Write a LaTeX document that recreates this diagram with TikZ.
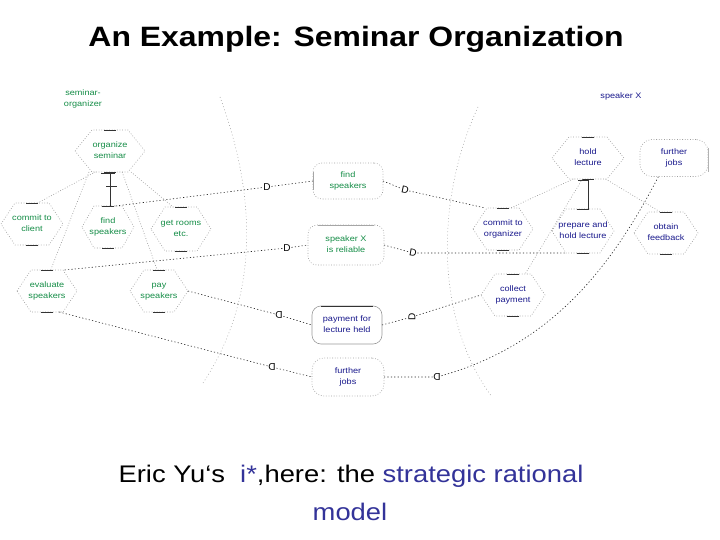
\documentclass[tikz,border=0pt]{standalone}
\usepackage{fontspec}
\setmainfont{Liberation Sans}
\usepackage{graphicx}
\usetikzlibrary{calc}
\definecolor{orggreen}{RGB}{20,140,70}
\definecolor{spkblue}{RGB}{25,25,140}
\definecolor{capblue}{RGB}{51,51,153}
\newcommand{\wideX}[1]{\scalebox{1.14}[1]{#1}}
\newcommand{\mylbl}[1]{\wideX{\begin{tabular}{@{}c@{}}#1\end{tabular}}}
\newcommand{\hexfr}[2][14]{%
  \draw[hexside] (#2.west) -- ($(#2.north west)+(#1,0)$) -- ($(#2.north east)+(-#1,0)$) -- (#2.east) -- ($(#2.south east)+(-#1,0)$) -- ($(#2.south west)+(#1,0)$) -- cycle;
  \draw[hexcap] ($(#2.north)+(-6,0)$) -- ($(#2.north)+(6,0)$);
  \draw[hexcap] ($(#2.south)+(-6,0)$) -- ($(#2.south)+(6,0)$);}
\begin{document}
\begin{tikzpicture}[x=1pt,y=-1pt,
  hexnode/.style={draw=none,inner sep=0pt,outer sep=0pt,font=\fontsize{8}{10.5}\selectfont},
  hexside/.style={draw=gray!75,dash pattern=on 0.8pt off 1.8pt,line width=0.6pt},
  hexcap/.style={draw=black!80,line width=0.7pt},
  dep/.style={draw=black!85,dash pattern=on 1.2pt off 2.2pt,line width=0.6pt},
  decomp/.style={draw=gray!80,dash pattern=on 0.8pt off 1.8pt,line width=0.6pt},
  bound/.style={draw=gray!70,dash pattern=on 0.8pt off 2.5pt,line width=0.6pt},
  dsym/.style={font=\fontsize{10}{10}\selectfont,inner sep=0.6pt,text=black},
  goalbox/.style={draw=gray!75,dash pattern=on 0.8pt off 1.8pt,line width=0.6pt,rounded corners=9pt,inner sep=0pt,outer sep=0pt,font=\fontsize{8}{10.5}\selectfont},
  actlbl/.style={inner sep=0pt,font=\fontsize{8}{10.5}\selectfont}]
\useasboundingbox (0,0) rectangle (720,540);

% title and caption
\node[anchor=base,font=\fontsize{28}{34}\selectfont\bfseries] (title) at (356,47) {\wideX{An Example: Seminar Organization}};
\node[anchor=base,font=\fontsize{24}{30}\selectfont] (cap1) at (351,482) {\wideX{Eric Yu‘s\ \ \textcolor{capblue}{i*},here: the \textcolor{capblue}{strategic rational}}};
\node[anchor=base,font=\fontsize{24}{30}\selectfont,text=capblue] (cap2) at (350,520) {\wideX{model}};

% actor labels
\node[actlbl,text=orggreen] (orglbl) at (83,99) {\mylbl{seminar-\\organizer}};
\node[actlbl,text=spkblue] (spklbl) at (621,96) {\wideX{speaker X}};

% actor boundaries
\draw[bound] (220,97) .. controls (258,200) and (258,300) .. (203,383);
\draw[bound] (478,107) .. controls (435,200) and (435,320) .. (492,397);

% organizer tasks
\node[hexnode,text=orggreen,minimum width=70pt,minimum height=42pt] (os) at (110,151) {\mylbl{organize\\seminar}};
\node[hexnode,text=orggreen,minimum width=52pt,minimum height=42pt] (fs) at (108,227) {\mylbl{find\\speakers}};
\node[hexnode,text=orggreen,minimum width=62pt,minimum height=42pt] (cc) at (32,224) {\mylbl{commit to\\client}};
\node[hexnode,text=orggreen,minimum width=60pt,minimum height=44pt] (gr) at (181,229) {\mylbl{get rooms\\etc.}};
\node[hexnode,text=orggreen,minimum width=60pt,minimum height=42pt] (ev) at (47,291) {\mylbl{evaluate\\speakers}};
\node[hexnode,text=orggreen,minimum width=58pt,minimum height=42pt] (ps) at (159,291) {\mylbl{pay\\speakers}};
\hexfr[17]{os}
\hexfr[12]{fs}
\hexfr{cc}
\hexfr{gr}
\hexfr{ev}
\hexfr{ps}

% speaker tasks
\node[hexnode,text=spkblue,minimum width=72pt,minimum height=42pt] (hl) at (588,158) {\mylbl{hold\\lecture}};
\node[hexnode,text=spkblue,minimum width=60pt,minimum height=42pt] (co) at (503,229) {\mylbl{commit to\\organizer}};
\node[hexnode,text=spkblue,minimum width=62pt,minimum height=44pt] (ph) at (583,231) {\mylbl{prepare and\\hold lecture}};
\node[hexnode,text=spkblue,minimum width=64pt,minimum height=42pt] (ofb) at (666,233) {\mylbl{obtain\\feedback}};
\node[hexnode,text=spkblue,minimum width=64pt,minimum height=42pt] (cp) at (513,295) {\mylbl{collect\\payment}};
\hexfr[17]{hl}
\hexfr{co}
\hexfr{ph}
\hexfr{ofb}
\hexfr{cp}
\node[goalbox,text=spkblue,minimum width=68pt,minimum height=37pt,rounded corners=12pt] (fj2) at (674,158) {\mylbl{further\\jobs}};
\draw[hexcap,draw=gray!60] ($(fj2.north east)+(0,9)$) -- ($(fj2.south east)+(0,-4)$);

% dependums
\node[goalbox,text=orggreen,minimum width=70pt,minimum height=36pt] (fsd) at (348,181) {\mylbl{find\\speakers}};
\draw[hexcap,draw=gray!70] ($(fsd.north west)+(0,9)$) -- ($(fsd.south west)+(0,-9)$);
\node[goalbox,text=orggreen,minimum width=76pt,minimum height=40pt] (rel) at (346,245) {\mylbl{speaker X\\is reliable}};
\draw[hexcap,draw=gray!70] ($(rel.north west)+(10,0)$) -- ($(rel.north east)+(-10,0)$);
\node[goalbox,text=spkblue,draw=gray!80,solid,minimum width=70pt,minimum height=38pt] (pay) at (347,325) {\mylbl{payment for\\lecture held}};
\draw[hexcap] ($(pay.north west)+(9,0)$) -- ($(pay.north east)+(-9,0)$);
\node[goalbox,text=spkblue,minimum width=72pt,minimum height=38pt,rounded corners=12pt] (fjd) at (348,377) {\mylbl{further\\jobs}};

% dependency symbols
\node[dsym] (d1) at (267,187) {D};
\node[dsym,rotate=-12] (d2) at (405,190) {D};
\node[dsym] (d3) at (287,248) {D};
\node[dsym,rotate=-10] (d4) at (413,253) {D};
\node[dsym,rotate=180] (d5) at (279,315) {D};
\node[dsym,rotate=90] (d6) at (412,317) {D};
\node[dsym,rotate=180] (d7) at (272,367) {D};
\node[dsym,rotate=180] (d8) at (437,377) {D};

% dependency links
\draw[dep] (fs.70) -- (d1) -- (fsd.west);
\draw[dep] (fsd.east) -- (d2) -- (co.130);
\draw[dep] (ev.50) -- (d3) -- (rel.west);
\draw[dep] (rel.east) -- (d4) -- (ph.230);
\draw[dep] (ps.east) -- (d5) -- (pay.west);
\draw[dep] (pay.east) -- (d6) -- (cp.west);
\draw[dep] (ev.300) -- (d7) -- (fjd.west);
\draw[dep] (fjd.east) -- (d8) .. controls (550,345) and (610,270) .. (fj2.230);

% organizer decomposition
\draw[decomp] (os.235) -- (cc.75);
\draw[decomp] (os.225) -- (ev.80);
\draw[decomp] (os.300) -- (ps.95);
\draw[decomp] (os.315) -- (gr.110);
\draw[hexcap] (os.south) -- (os.south |- fs.north);
\draw[hexcap] ($(os.south)+(-9,1)$) -- ($(os.south)+(5,1)$);
\draw[hexcap] ($(os.south)+(-4,14)$) -- ($(os.south)+(7,14)$);

% speaker decomposition
\draw[decomp] (hl.235) -- (co.70);
\draw[decomp] (hl.310) -- (ofb.105);
\draw[decomp] (hl.255) -- (cp.60);
\draw[hexcap] (hl.south) -- (hl.south |- ph.north);
\draw[hexcap] ($(hl.south)+(-10,1)$) -- ($(hl.south)+(1,1)$);
\end{tikzpicture}
\end{document}
